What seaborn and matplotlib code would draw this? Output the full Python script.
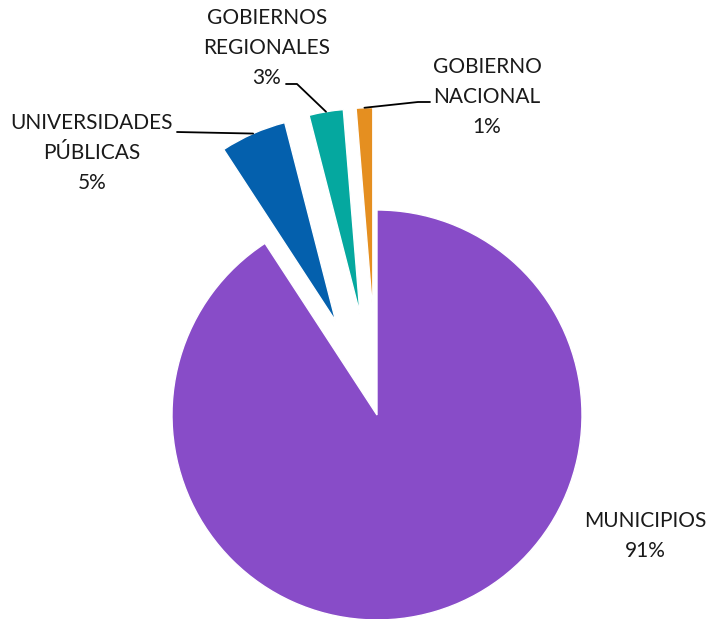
import numpy as np
import matplotlib
matplotlib.use('Agg')
import matplotlib.pyplot as plt
import seaborn as sns

# data
categories = ['MUNICIPIOS', 'UNIVERSIDADES\nPÚBLICAS', 'GOBIERNOS\nREGIONALES', 'GOBIERNO\nNACIONAL']
shares = [90.8, 5.2, 2.7, 1.3]
colors = ['#884CC8', '#0460AD', '#05A89F', '#E58F20']
explode = [0, 0.5, 0.5, 0.5]

sns.set_theme(style='white')
plt.rcParams['font.family'] = ['Lato', 'DejaVu Sans']

W, H = 710, 619
R = 205.0          # pie radius in pixels
cx, cy = 377, 415  # pie centre in pixels (from top-left)


def to_data(x, y):
    return ((x - cx) / R, (cy - y) / R)


fig = plt.figure(figsize=(W / 100, H / 100), dpi=100)
ax = fig.add_axes([0, 0, 1, 1])
wedges, _ = ax.pie(shares, colors=colors, explode=explode, startangle=90,
                   counterclock=False, radius=1,
                   wedgeprops=dict(edgecolor='white', linewidth=1))
ax.set_xlim(-cx / R, (W - cx) / R)
ax.set_ylim(-(H - cy) / R, cy / R)
ax.axis('off')

# label layout: text centre (px), leader path points (px) or None
label_pos = [(645, 536), (92, 153), (267, 48), (487, 97)]
leader_pts = [None, [(177, 132)], [(286, 84), (297, 84)], [(430, 102), (418, 102)]]

for w, cat, s, pos, pts in zip(wedges, categories, shares, label_pos, leader_pts):
    tx, ty = to_data(*pos)
    ax.text(tx, ty, f'{cat}\n{round(s)}%', ha='center', va='center',
            fontsize=15, linespacing=1.6, color='#1a1a1a')
    if pts is None:
        continue
    mid = np.deg2rad((w.theta1 + w.theta2) / 2)
    ax_x = w.center[0] + w.r * np.cos(mid)
    ax_y = w.center[1] + w.r * np.sin(mid)
    xs = [to_data(*p)[0] for p in pts] + [ax_x]
    ys = [to_data(*p)[1] for p in pts] + [ax_y]
    ax.plot(xs, ys, color='black', lw=1.3)

fig.savefig('out.png', dpi=100)
